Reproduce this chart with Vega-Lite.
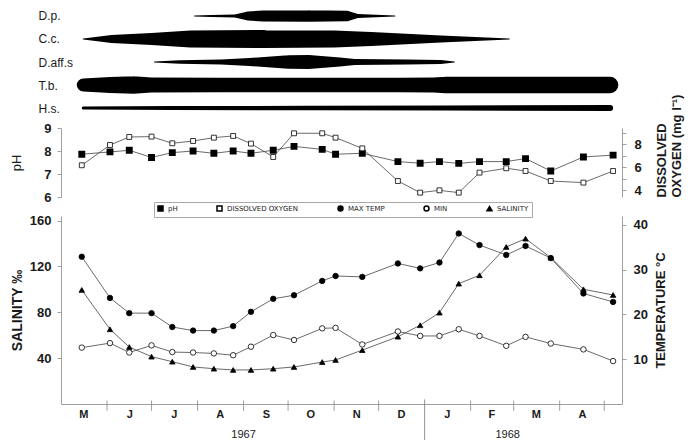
{
  "$schema": "https://vega.github.io/schema/vega-lite/v6.json",
  "background": "white",
  "padding": {"left": 10, "right": 2, "top": 9, "bottom": 0},
  "config": {
    "font": "Liberation Sans",
    "view": {"stroke": null},
    "axis": {"grid": false, "domainColor": "#888", "tickColor": "#888", "labelColor": "#1a1a1a", "titleColor": "#1a1a1a", "labelFont": "Liberation Sans", "titleFont": "Liberation Sans", "labelFontSize": 13, "labelFontWeight": "bold", "titleFontSize": 13, "titleFontWeight": "bold", "tickSize": 4, "domainWidth": 0.8, "tickWidth": 0.8}
  },
  "datasets": {
    "kites": [
      {"species": "D.p.", "date": "1967-07-30", "abundance": 0},
      {"species": "D.p.", "date": "1967-08-10", "abundance": 1},
      {"species": "D.p.", "date": "1967-08-26", "abundance": 1.6},
      {"species": "D.p.", "date": "1967-09-04", "abundance": 4.5},
      {"species": "D.p.", "date": "1967-09-14", "abundance": 5.5},
      {"species": "D.p.", "date": "1967-10-15", "abundance": 5.8},
      {"species": "D.p.", "date": "1967-11-10", "abundance": 5.2},
      {"species": "D.p.", "date": "1967-11-17", "abundance": 2},
      {"species": "D.p.", "date": "1967-12-12", "abundance": 0},
      {"species": "C.c.", "date": "1967-05-16", "abundance": 0},
      {"species": "C.c.", "date": "1967-06-04", "abundance": 4},
      {"species": "C.c.", "date": "1967-07-01", "abundance": 6},
      {"species": "C.c.", "date": "1967-07-27", "abundance": 8.5},
      {"species": "C.c.", "date": "1967-09-15", "abundance": 9},
      {"species": "C.c.", "date": "1967-11-01", "abundance": 8.5},
      {"species": "C.c.", "date": "1967-11-26", "abundance": 7},
      {"species": "C.c.", "date": "1968-01-12", "abundance": 3.5},
      {"species": "C.c.", "date": "1968-02-27", "abundance": 0},
      {"species": "D.aff.s", "date": "1967-07-03", "abundance": 0},
      {"species": "D.aff.s", "date": "1967-07-20", "abundance": 1.8},
      {"species": "D.aff.s", "date": "1967-08-17", "abundance": 2.5},
      {"species": "D.aff.s", "date": "1967-09-05", "abundance": 4},
      {"species": "D.aff.s", "date": "1967-10-01", "abundance": 6.8},
      {"species": "D.aff.s", "date": "1967-10-15", "abundance": 7},
      {"species": "D.aff.s", "date": "1967-11-05", "abundance": 4.5},
      {"species": "D.aff.s", "date": "1967-11-15", "abundance": 3},
      {"species": "D.aff.s", "date": "1967-12-20", "abundance": 2.5},
      {"species": "D.aff.s", "date": "1968-01-12", "abundance": 2},
      {"species": "D.aff.s", "date": "1968-01-21", "abundance": 0},
      {"species": "T.b.", "date": "1967-05-16", "abundance": 6.5},
      {"species": "T.b.", "date": "1967-06-03", "abundance": 8},
      {"species": "T.b.", "date": "1967-06-19", "abundance": 8.8},
      {"species": "T.b.", "date": "1967-07-01", "abundance": 7.6},
      {"species": "T.b.", "date": "1967-08-15", "abundance": 7.2},
      {"species": "T.b.", "date": "1967-10-15", "abundance": 7.2},
      {"species": "T.b.", "date": "1967-12-15", "abundance": 7.2},
      {"species": "T.b.", "date": "1968-01-07", "abundance": 7.6},
      {"species": "T.b.", "date": "1968-01-15", "abundance": 8.2},
      {"species": "T.b.", "date": "1968-03-15", "abundance": 8.2},
      {"species": "T.b.", "date": "1968-05-05", "abundance": 8.2},
      {"species": "H.s.", "date": "1967-05-16", "abundance": 1.5},
      {"species": "H.s.", "date": "1967-07-15", "abundance": 2},
      {"species": "H.s.", "date": "1967-10-15", "abundance": 2.2},
      {"species": "H.s.", "date": "1968-01-15", "abundance": 2.5},
      {"species": "H.s.", "date": "1968-05-05", "abundance": 3}
    ],
    "water": [
      {"date": "1967-05-15", "pH": 7.86, "DO": 6.16},
      {"date": "1967-06-03", "pH": 7.96, "DO": 7.92},
      {"date": "1967-06-16", "pH": 8.03, "DO": 8.62},
      {"date": "1967-07-01", "pH": 7.72, "DO": 8.65},
      {"date": "1967-07-15", "pH": 7.93, "DO": 8.07},
      {"date": "1967-07-29", "pH": 8.0, "DO": 8.27},
      {"date": "1967-08-12", "pH": 7.9, "DO": 8.56},
      {"date": "1967-08-25", "pH": 8.0, "DO": 8.71},
      {"date": "1967-09-06", "pH": 7.9, "DO": 8.04},
      {"date": "1967-09-21", "pH": 8.03, "DO": 6.88},
      {"date": "1967-10-05", "pH": 8.2, "DO": 8.94},
      {"date": "1967-10-24", "pH": 8.07, "DO": 8.94},
      {"date": "1967-11-02", "pH": 7.86, "DO": 8.56},
      {"date": "1967-11-20", "pH": 7.9, "DO": 7.63},
      {"date": "1967-12-14", "pH": 7.54, "DO": 4.79},
      {"date": "1967-12-29", "pH": 7.47, "DO": 3.78},
      {"date": "1968-01-11", "pH": 7.54, "DO": 3.98},
      {"date": "1968-01-24", "pH": 7.46, "DO": 3.78},
      {"date": "1968-02-07", "pH": 7.54, "DO": 5.52},
      {"date": "1968-02-25", "pH": 7.54, "DO": 5.9},
      {"date": "1968-03-09", "pH": 7.67, "DO": 5.66},
      {"date": "1968-03-26", "pH": 7.13, "DO": 4.79},
      {"date": "1968-04-17", "pH": 7.74, "DO": 4.65},
      {"date": "1968-05-07", "pH": 7.82, "DO": 5.66}
    ],
    "field": [
      {"date": "1967-05-15", "series": "MAX TEMP", "value": 32.9},
      {"date": "1967-06-03", "series": "MAX TEMP", "value": 23.7},
      {"date": "1967-06-16", "series": "MAX TEMP", "value": 20.3},
      {"date": "1967-07-01", "series": "MAX TEMP", "value": 20.3},
      {"date": "1967-07-15", "series": "MAX TEMP", "value": 17.2},
      {"date": "1967-07-29", "series": "MAX TEMP", "value": 16.4},
      {"date": "1967-08-12", "series": "MAX TEMP", "value": 16.4},
      {"date": "1967-08-25", "series": "MAX TEMP", "value": 17.4},
      {"date": "1967-09-06", "series": "MAX TEMP", "value": 20.6},
      {"date": "1967-09-21", "series": "MAX TEMP", "value": 23.5},
      {"date": "1967-10-05", "series": "MAX TEMP", "value": 24.3},
      {"date": "1967-10-24", "series": "MAX TEMP", "value": 27.5},
      {"date": "1967-11-02", "series": "MAX TEMP", "value": 28.6},
      {"date": "1967-11-20", "series": "MAX TEMP", "value": 28.4},
      {"date": "1967-12-14", "series": "MAX TEMP", "value": 31.4},
      {"date": "1967-12-29", "series": "MAX TEMP", "value": 30.3},
      {"date": "1968-01-11", "series": "MAX TEMP", "value": 31.6},
      {"date": "1968-01-24", "series": "MAX TEMP", "value": 38.1},
      {"date": "1968-02-07", "series": "MAX TEMP", "value": 35.5},
      {"date": "1968-02-25", "series": "MAX TEMP", "value": 33.3},
      {"date": "1968-03-09", "series": "MAX TEMP", "value": 35.3},
      {"date": "1968-03-26", "series": "MAX TEMP", "value": 32.6},
      {"date": "1968-04-17", "series": "MAX TEMP", "value": 24.7},
      {"date": "1968-05-07", "series": "MAX TEMP", "value": 22.8},
      {"date": "1967-05-15", "series": "MIN", "value": 12.6},
      {"date": "1967-06-03", "series": "MIN", "value": 13.6},
      {"date": "1967-06-16", "series": "MIN", "value": 11.5},
      {"date": "1967-07-01", "series": "MIN", "value": 13.1},
      {"date": "1967-07-15", "series": "MIN", "value": 11.6},
      {"date": "1967-07-29", "series": "MIN", "value": 11.5},
      {"date": "1967-08-12", "series": "MIN", "value": 11.3},
      {"date": "1967-08-25", "series": "MIN", "value": 10.9},
      {"date": "1967-09-06", "series": "MIN", "value": 12.8},
      {"date": "1967-09-21", "series": "MIN", "value": 15.4},
      {"date": "1967-10-05", "series": "MIN", "value": 14.3},
      {"date": "1967-10-24", "series": "MIN", "value": 16.9},
      {"date": "1967-11-02", "series": "MIN", "value": 17.0},
      {"date": "1967-11-20", "series": "MIN", "value": 13.3},
      {"date": "1967-12-14", "series": "MIN", "value": 16.2},
      {"date": "1967-12-29", "series": "MIN", "value": 15.2},
      {"date": "1968-01-11", "series": "MIN", "value": 15.2},
      {"date": "1968-01-24", "series": "MIN", "value": 16.7},
      {"date": "1968-02-07", "series": "MIN", "value": 15.2},
      {"date": "1968-02-25", "series": "MIN", "value": 13.0},
      {"date": "1968-03-09", "series": "MIN", "value": 15.0},
      {"date": "1968-03-26", "series": "MIN", "value": 13.5},
      {"date": "1968-04-17", "series": "MIN", "value": 12.2},
      {"date": "1968-05-07", "series": "MIN", "value": 9.6},
      {"date": "1967-05-15", "series": "SALINITY", "value": 99.5},
      {"date": "1967-06-03", "series": "SALINITY", "value": 65.2},
      {"date": "1967-06-16", "series": "SALINITY", "value": 49.7},
      {"date": "1967-07-01", "series": "SALINITY", "value": 41.3},
      {"date": "1967-07-15", "series": "SALINITY", "value": 36.9},
      {"date": "1967-07-29", "series": "SALINITY", "value": 32.3},
      {"date": "1967-08-12", "series": "SALINITY", "value": 30.8},
      {"date": "1967-08-25", "series": "SALINITY", "value": 29.7},
      {"date": "1967-09-06", "series": "SALINITY", "value": 29.7},
      {"date": "1967-09-21", "series": "SALINITY", "value": 30.8},
      {"date": "1967-10-05", "series": "SALINITY", "value": 32.3},
      {"date": "1967-10-24", "series": "SALINITY", "value": 36.6},
      {"date": "1967-11-02", "series": "SALINITY", "value": 38.4},
      {"date": "1967-11-20", "series": "SALINITY", "value": 47.0},
      {"date": "1967-12-14", "series": "SALINITY", "value": 58.7},
      {"date": "1967-12-29", "series": "SALINITY", "value": 68.7},
      {"date": "1968-01-11", "series": "SALINITY", "value": 79.7},
      {"date": "1968-01-24", "series": "SALINITY", "value": 105.0},
      {"date": "1968-02-07", "series": "SALINITY", "value": 112.3},
      {"date": "1968-02-25", "series": "SALINITY", "value": 137.0},
      {"date": "1968-03-09", "series": "SALINITY", "value": 144.2},
      {"date": "1968-03-26", "series": "SALINITY", "value": 127.7},
      {"date": "1968-04-17", "series": "SALINITY", "value": 100.1},
      {"date": "1968-05-07", "series": "SALINITY", "value": 95.1}
    ],
    "monthTicks": [
      {"date": "1967-06-01"}, {"date": "1967-07-01"}, {"date": "1967-08-01"}, {"date": "1967-09-01"},
      {"date": "1967-10-01"}, {"date": "1967-11-01"}, {"date": "1967-12-01"}, {"date": "1968-02-01"},
      {"date": "1968-03-01"}, {"date": "1968-04-01"}, {"date": "1968-05-01"}
    ],
    "divider": [{"date": "1968-01-01"}],
    "years": [{"date": "1967-09-01", "year": "1967"}, {"date": "1968-02-26", "year": "1968"}]
  },
  "bounds": "flush",
  "spacing": 19,
  "vconcat": [
    {
      "width": 561,
      "height": 94,
      "data": {"name": "kites"},
      "mark": {"type": "trail", "color": "black"},
      "encoding": {
        "x": {"field": "date", "type": "temporal", "scale": {"type": "utc", "domain": [{"year": 1967, "month": 5, "date": 1, "utc": true}, {"year": 1968, "month": 5, "date": 13, "utc": true}]}, "axis": null},
        "y": {"field": "species", "type": "nominal", "sort": ["D.p.", "C.c.", "D.aff.s", "T.b.", "H.s."], "scale": {"type": "point", "padding": 0.043}, "axis": {"title": null, "domain": false, "ticks": false, "tickSize": 0, "labelAlign": "left", "labelPadding": 23, "labelFontSize": 12, "labelFontWeight": "normal"}},
        "size": {"field": "abundance", "type": "quantitative", "scale": {"domain": [0, 10], "range": [0, 20]}, "legend": null},
        "detail": {"field": "species"}
      }
    },
    {
      "width": 561,
      "height": 69,
      "data": {"name": "water"},
      "encoding": {
        "x": {"field": "date", "type": "temporal", "scale": {"type": "utc", "domain": [{"year": 1967, "month": 5, "date": 1, "utc": true}, {"year": 1968, "month": 5, "date": 13, "utc": true}]}, "axis": null}
      },
      "layer": [
        {
          "encoding": {"y": {"field": "pH", "type": "quantitative", "scale": {"domain": [6, 9]}, "axis": {"orient": "left", "values": [6, 7, 8, 9], "title": "pH", "titleFontWeight": "normal", "labelPadding": 6, "titlePadding": 20}}},
          "layer": [
            {"mark": {"type": "line", "color": "#444", "strokeWidth": 0.8}},
            {"mark": {"type": "point", "shape": "square", "filled": true, "fill": "black", "stroke": "black", "size": 24, "opacity": 1}}
          ]
        },
        {
          "encoding": {"y": {"field": "DO", "type": "quantitative", "scale": {"domain": [3.4, 9.4]}, "axis": {"orient": "right", "values": [4, 5, 6, 7, 8, 9], "labelExpr": "datum.value % 2 == 0 ? datum.label : ''", "title": ["DISSOLVED", "OXYGEN (mg l⁻¹)"], "titleAngle": 270, "titleAnchor": "start", "titleAlign": "left", "titleLineHeight": 15, "labelPadding": 8, "titlePadding": 12}}},
          "layer": [
            {"mark": {"type": "line", "color": "#444", "strokeWidth": 0.8}},
            {"mark": {"type": "point", "shape": "square", "filled": true, "fill": "white", "stroke": "black", "strokeWidth": 0.8, "size": 24, "opacity": 1}}
          ]
        }
      ],
      "resolve": {"scale": {"y": "independent"}}
    },
    {
      "width": 561,
      "height": 188,
      "encoding": {
        "x": {"field": "date", "type": "temporal", "scale": {"type": "utc", "domain": [{"year": 1967, "month": 5, "date": 1, "utc": true}, {"year": 1968, "month": 5, "date": 13, "utc": true}]},
          "axis": {"title": null, "ticks": false, "labelFontWeight": "bold", "labelFontSize": 11, "labelPadding": 4, "labelExpr": "substring(utcFormat(datum.value, '%b'), 0, 1)",
            "values": [{"year": 1967, "month": 5, "date": 16, "utc": true}, {"year": 1967, "month": 6, "date": 16, "utc": true}, {"year": 1967, "month": 7, "date": 16, "utc": true}, {"year": 1967, "month": 8, "date": 16, "utc": true}, {"year": 1967, "month": 9, "date": 16, "utc": true}, {"year": 1967, "month": 10, "date": 16, "utc": true}, {"year": 1967, "month": 11, "date": 16, "utc": true}, {"year": 1967, "month": 12, "date": 16, "utc": true}, {"year": 1968, "month": 1, "date": 16, "utc": true}, {"year": 1968, "month": 2, "date": 15, "utc": true}, {"year": 1968, "month": 3, "date": 16, "utc": true}, {"year": 1968, "month": 4, "date": 16, "utc": true}]}}
      },
      "layer": [
        {
          "layer": [
            {
              "data": {"name": "field"},
              "transform": [{"filter": "datum.series == 'SALINITY'"}],
              "mark": {"type": "line", "color": "#444", "strokeWidth": 0.8},
              "encoding": {"y": {"field": "value", "type": "quantitative", "scale": {"domain": [0, 164]}, "axis": {"orient": "left", "values": [40, 80, 120, 160], "title": "SALINITY ‰", "titleFontSize": 14, "labelPadding": 6, "titlePadding": 5}}}
            },
            {
              "data": {"name": "field"},
              "transform": [{"filter": "datum.series == 'SALINITY'"}],
              "mark": {"type": "point", "filled": true, "stroke": "black", "strokeWidth": 0.8, "size": 30, "opacity": 1},
              "encoding": {
                "y": {"field": "value", "type": "quantitative", "scale": {"domain": [0, 164]}},
                "shape": {"field": "series", "type": "nominal", "scale": {"domain": ["pH", "DISSOLVED OXYGEN", "MAX TEMP", "MIN", "SALINITY"], "range": ["square", "square", "circle", "circle", "triangle-up"]}, "legend": {"title": null, "orient": "none", "legendX": 93, "legendY": 187, "direction": "horizontal", "labelFont": "DejaVu Sans", "labelFontSize": 7, "labelColor": "#222", "symbolSize": 25, "columnPadding": 36, "padding": 3, "strokeColor": "#aaa", "encode": {"symbols": {"update": {"stroke": {"value": "black"}, "strokeWidth": {"value": 0.8}}}}}},
                "fill": {"field": "series", "type": "nominal", "scale": {"domain": ["pH", "DISSOLVED OXYGEN", "MAX TEMP", "MIN", "SALINITY"], "range": ["black", "white", "black", "white", "black"]}, "legend": {"title": null, "orient": "none", "legendX": 93, "legendY": 187, "direction": "horizontal", "labelFont": "DejaVu Sans", "labelFontSize": 7, "labelColor": "#222", "symbolSize": 25, "columnPadding": 36, "padding": 3, "strokeColor": "#aaa", "encode": {"symbols": {"update": {"stroke": {"value": "black"}, "strokeWidth": {"value": 0.8}}}}}}
              }
            },
            {
              "data": {"name": "monthTicks"},
              "mark": {"type": "rule", "color": "#888", "strokeWidth": 0.8},
              "encoding": {"y": {"datum": 3, "type": "quantitative", "scale": {"domain": [0, 164]}}, "y2": {"datum": -6}}
            },
            {
              "data": {"name": "divider"},
              "mark": {"type": "rule", "color": "#777", "strokeWidth": 0.8},
              "encoding": {"y": {"datum": 4, "type": "quantitative", "scale": {"domain": [0, 164]}}, "y2": {"datum": -35}}
            },
            {
              "data": {"name": "years"},
              "mark": {"type": "text", "fontSize": 11, "color": "#1a1a1a"},
              "encoding": {"y": {"datum": -27, "type": "quantitative", "scale": {"domain": [0, 164]}}, "text": {"field": "year"}}
            }
          ]
        },
        {
          "data": {"name": "field"},
          "transform": [{"filter": "datum.series != 'SALINITY'"}],
          "encoding": {"y": {"field": "value", "type": "quantitative", "scale": {"domain": [0, 42]}, "axis": {"orient": "right", "values": [10, 20, 30, 40], "title": "TEMPERATURE °C", "titleAngle": 270, "labelPadding": 7, "titlePadding": 20}}},
          "layer": [
            {"mark": {"type": "line", "color": "#444", "strokeWidth": 0.8}, "encoding": {"detail": {"field": "series"}}},
            {
              "mark": {"type": "point", "filled": true, "stroke": "black", "strokeWidth": 0.8, "size": 30, "opacity": 1},
              "encoding": {
                "shape": {"field": "series", "type": "nominal", "scale": {"domain": ["pH", "DISSOLVED OXYGEN", "MAX TEMP", "MIN", "SALINITY"], "range": ["square", "square", "circle", "circle", "triangle-up"]}},
                "fill": {"field": "series", "type": "nominal", "scale": {"domain": ["pH", "DISSOLVED OXYGEN", "MAX TEMP", "MIN", "SALINITY"], "range": ["black", "white", "black", "white", "black"]}}
              }
            }
          ]
        }
      ],
      "resolve": {"scale": {"y": "independent"}}
    }
  ]
}
